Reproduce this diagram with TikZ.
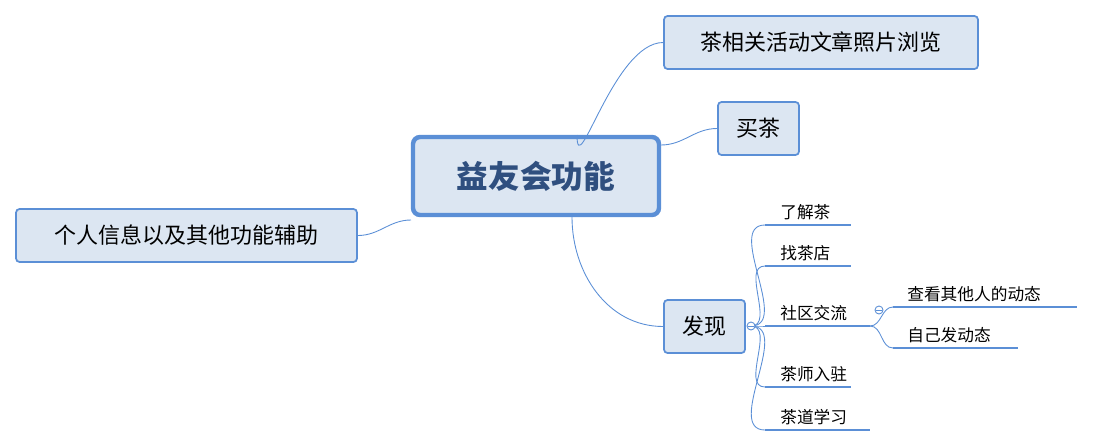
\documentclass[tikz,border=0pt]{standalone}
\usepackage{fontspec}
\setmainfont{Noto Sans CJK SC}
\definecolor{boxfill}{HTML}{DCE6F2}
\definecolor{boxline}{HTML}{5B8FD6}
\definecolor{titletext}{HTML}{2F4F7F}
\tikzset{
  topic/.style={draw=boxline, fill=boxfill, rounded corners=2pt, line width=1pt, inner sep=0pt, font=\fontsize{12.5}{14}\selectfont},
  leaf/.style={anchor=south west, inner sep=0pt, font=\fontsize{9.5}{11}\selectfont},
  branch/.style={draw=boxline, line width=0.5pt},
  uline/.style={draw=boxline, line width=1.2pt}
}
\begin{document}
\begin{tikzpicture}[x=0.02cm, y=-0.02cm]
\useasboundingbox (0, 0) rectangle (1096, 447);
\node[topic, line width=2.5pt, rounded corners=4pt, minimum width=4.92cm, minimum height=1.56cm, font=\fontsize{18}{20}\selectfont\bfseries, text=titletext] (main) at (536, 176) {益友会功能};
\node[topic, minimum width=6.28cm, minimum height=1.06cm] (photo) at (821, 42.5) {茶相关活动文章照片浏览};
\node[topic, minimum width=1.62cm, minimum height=1.06cm] (buy) at (758.5, 128.5) {买茶};
\node[topic, minimum width=1.62cm, minimum height=1.06cm] (find) at (704.5, 326.5) {发现};
\node[topic, minimum width=6.82cm, minimum height=1.06cm] (user) at (186.5, 235.5) {个人信息以及其他功能辅助};
% connectors from the centre
\draw[branch] (577, 135) to[out=-90, in=180] (photo.west);
\draw[branch] (661, 145) to[out=0, in=180] (buy.west);
\draw[branch] (572, 217) to[out=-90, in=180] (find.west);
\draw[branch] (411, 220) to[out=180, in=0] (user.east);
% items under find
\coordinate (fk) at (751, 326);
\foreach \name/\txt/\y/\len in {a/了解茶/225/86, b/找茶店/266/86, c/社区交流/326/105, d/茶师入驻/387/86, e/茶道学习/430/105} {
  \coordinate (\name l) at (765, \y);
  \coordinate (\name r) at (765+\len, \y);
  \draw[uline] (\name l) -- (\name r);
  \node[leaf] (\name t) at (780, \y-5) {\txt};
  \draw[branch] (fk) to[out=0, in=180] (\name l);
}
\draw[branch, fill=white] (fk) circle (4);
% items under community
\coordinate (ck) at (879, 310);
\foreach \name/\txt/\y/\len in {f/查看其他人的动态/307/184, g/自己发动态/348/125} {
  \coordinate (\name l) at (893, \y);
  \coordinate (\name r) at (893+\len, \y);
  \draw[uline] (\name l) -- (\name r);
  \node[leaf] (\name t) at (907, \y-5) {\txt};
  \draw[branch] (cr) to[out=0, in=180] (\name l);
}
\draw[branch, fill=white] (ck) circle (4);
\draw[boxline] (876, 310) -- (882, 310);
\draw[boxline] (748, 326) -- (754, 326);
\end{tikzpicture}
\end{document}
